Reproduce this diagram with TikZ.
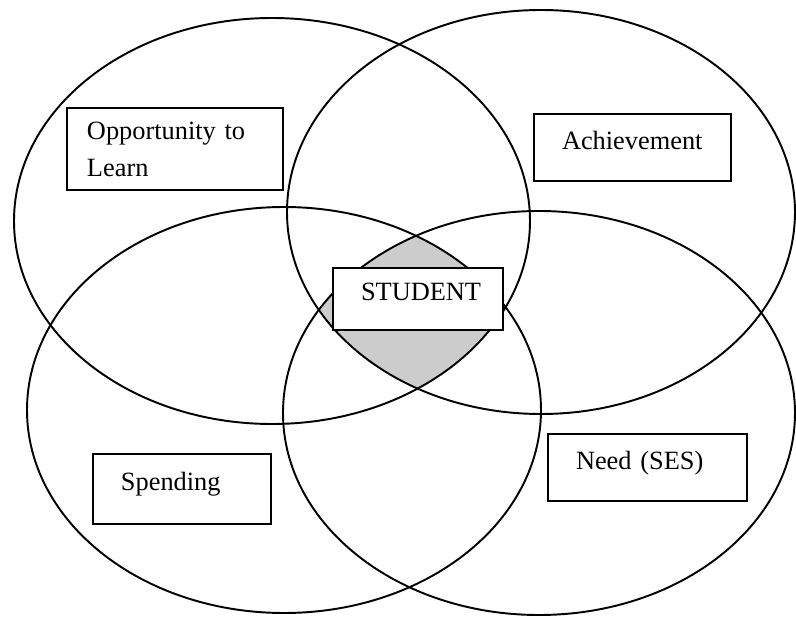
\documentclass[tikz,border=0pt]{standalone}
\usepackage{fontspec}
\setmainfont{Liberation Serif}
\usepackage{tikz}

\begin{document}
\begin{tikzpicture}[
    set/.style={draw, line width=1.1pt},
    box/.style={rectangle, draw, line width=1pt, fill=white, align=left, inner xsep=0.56cm, font=\fontsize{15}{21}\selectfont},
    oneline/.style={text height=0.37cm, text depth=0.30cm}
]
\useasboundingbox (0,0) rectangle (15.92,12.34);

% Set centres
\coordinate (learn) at (5.44,7.92);
\coordinate (achieve) at (10.82,8.10);
\coordinate (spend) at (5.68,4.14);
\coordinate (need) at (10.78,4.08);

% Shared region of all four sets
\begin{scope}
\clip (learn) ellipse [x radius=5.16cm, y radius=4.06cm];
\clip (achieve) ellipse [x radius=5.08cm, y radius=4.04cm];
\clip (spend) ellipse [x radius=5.14cm, y radius=4.06cm];
\fill[black!20] (need) ellipse [x radius=5.12cm, y radius=4.04cm];
\end{scope}

% Sets
\draw[set] (learn) ellipse [x radius=5.16cm, y radius=4.06cm];
\draw[set] (achieve) ellipse [x radius=5.08cm, y radius=4.04cm];
\draw[set] (spend) ellipse [x radius=5.14cm, y radius=4.06cm];
\draw[set] (need) ellipse [x radius=5.12cm, y radius=4.04cm];

% Labels
\node[box, inner xsep=0.4cm, text width=3.52cm, minimum height=1.64cm] (learnbox) at (3.50,9.36) {Opportunity to\\Learn};
\node[box, oneline, text width=2.82cm, minimum height=1.34cm] (achievebox) at (12.65,9.39) {Achievement};
\node[box, oneline, text width=2.28cm, minimum height=1.24cm] (studentbox) at (8.36,6.36) {STUDENT};
\node[box, oneline, text width=2.44cm, minimum height=1.40cm] (spendbox) at (3.64,2.56) {Spending};
\node[box, oneline, text width=2.86cm, minimum height=1.34cm] (needbox) at (12.95,2.99) {Need (SES)};

\end{tikzpicture}
\end{document}
